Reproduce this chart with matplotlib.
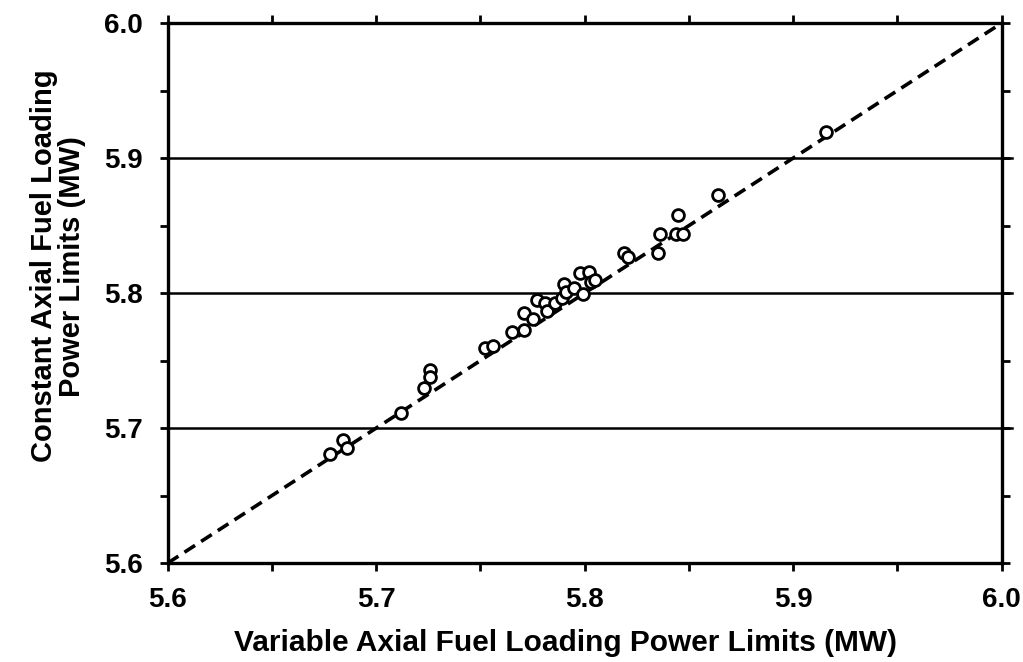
import matplotlib
matplotlib.use('Agg')
import matplotlib.pyplot as plt
import numpy as np
from matplotlib.ticker import MultipleLocator

# variable axial fuel loading power limits (MW)
var_limits = [5.678, 5.684, 5.686, 5.712, 5.723, 5.726, 5.726,
              5.752, 5.756, 5.765, 5.771, 5.771, 5.775, 5.777, 5.781,
              5.782, 5.786, 5.789, 5.790, 5.791, 5.795, 5.798, 5.799,
              5.802, 5.803, 5.805, 5.819, 5.821, 5.835, 5.836, 5.845,
              5.844, 5.847, 5.864, 5.916]
# constant axial fuel loading power limits (MW)
const_limits = [5.681, 5.691, 5.685, 5.711, 5.730, 5.743, 5.738,
                5.759, 5.761, 5.771, 5.773, 5.785, 5.781, 5.795, 5.793,
                5.787, 5.793, 5.796, 5.807, 5.801, 5.804, 5.815, 5.799,
                5.816, 5.808, 5.810, 5.830, 5.827, 5.830, 5.844, 5.858,
                5.844, 5.844, 5.873, 5.919]

ref_line = [5.6, 6.0]
grid_levels = [5.7, 5.8, 5.9]

plt.rcParams['font.family'] = ['Liberation Sans', 'DejaVu Sans']
plt.rcParams['font.weight'] = 'bold'

fig = plt.figure(figsize=(10.23, 6.62), dpi=100)
ax = fig.add_axes([0.164, 0.1495, 0.815, 0.8155])

# horizontal reference lines, running a little past the right spine
for g in grid_levels:
    ax.axhline(g, xmax=1.012, color='black', lw=1.8, zorder=1, clip_on=False)

ax.plot(ref_line, ref_line, color='black', lw=2.6, ls=(0, (3.5, 2.0)), zorder=2)
ax.plot(var_limits, const_limits, 'o', mfc='white', mec='black',
        ms=8.5, mew=2.0, zorder=3)

ax.set_xlim(5.6, 6.0)
ax.set_ylim(5.6, 6.0)
ax.xaxis.set_major_locator(MultipleLocator(0.1))
ax.yaxis.set_major_locator(MultipleLocator(0.1))
ax.xaxis.set_minor_locator(MultipleLocator(0.05))
ax.yaxis.set_minor_locator(MultipleLocator(0.05))
ax.xaxis.set_major_formatter(plt.FormatStrFormatter('%.1f'))
ax.yaxis.set_major_formatter(plt.FormatStrFormatter('%.1f'))

for side in ['left', 'right', 'top', 'bottom']:
    ax.spines[side].set_linewidth(2.4)

ax.tick_params(which='both', direction='out', width=2, length=6,
               top=True, right=True, labelsize=20)
ax.tick_params(axis='x', which='major', pad=11)
ax.tick_params(axis='y', which='major', pad=12)

ax.set_xlabel('Variable Axial Fuel Loading Power Limits (MW)',
              fontsize=21.5, fontweight='bold')
ax.set_ylabel('Constant Axial Fuel Loading\nPower Limits (MW)',
              fontsize=21, fontweight='bold', linespacing=1.0)
ax.xaxis.set_label_coords(0.477, -0.123)
ax.yaxis.set_label_coords(-0.098, 0.55)

fig.savefig('out.png', dpi=100)
